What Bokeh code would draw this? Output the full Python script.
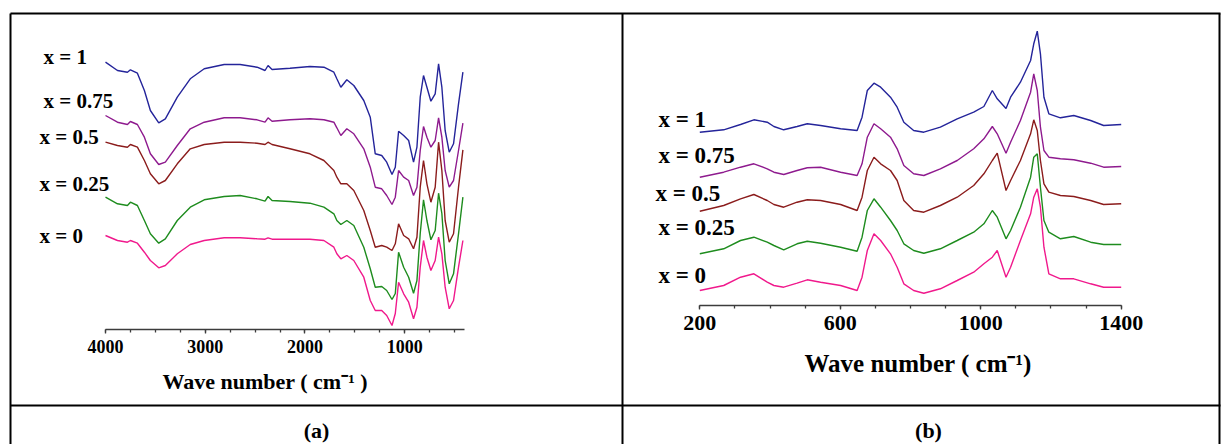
from bokeh.plotting import figure
from bokeh.models import Range1d, LinearAxis, FixedTicker
from bokeh.core.properties import value
from bokeh.embed import file_html
from bokeh.resources import INLINE

# ---------------- data: (a) FTIR spectra (offset, a.u., larger = lower on page) ----------------
wn_a = [4000, 3880, 3780, 3750, 3680, 3610, 3550, 3466, 3400, 3280, 3150, 3010, 2810, 2650, 2480,
        2400, 2370, 2330, 2150, 1950, 1810, 1710, 1680, 1640, 1580, 1510, 1410, 1345, 1295, 1230,
        1180, 1127, 1094, 1061, 1010, 960, 911, 877, 844, 811, 777, 737, 694, 660, 627, 594, 553,
        510, 460, 416]
ftir_x1 = [61.7, 70, 71.7, 69.3, 72.7, 90, 110, 122.3, 118.3, 96.7, 78.3, 68.3, 64, 64, 66.7,
           70, 65, 69, 67.7, 66, 66.7, 71.7, 78.3, 86.7, 79.3, 85, 100, 116.7, 153.3, 155,
           161.7, 174, 166.7, 130.7, 135, 140, 161.7, 146.7, 96.7, 75, 86.7, 100.7, 93.3, 63.3,
           86.7, 130, 151.7, 143.3, 103.3, 71.7]
ftir_x075 = [115, 121.7, 124, 121, 124, 136.7, 153.3, 164, 161.7, 145, 128.3, 121.7, 117.3, 117.3,
             119.3, 121.7, 117.3, 120.7, 119.3, 118.3, 119.3, 121.7, 127.3, 135, 128.3, 133.3,
             148.3, 166.7, 186.7, 188.3, 195, 204, 196.7, 170, 176.7, 180, 195, 186.7, 150, 126,
             136.7, 146.7, 140, 117.3, 136.7, 170, 186.7, 180, 150, 122.7]
ftir_x05 = [141.7, 145, 146.7, 144, 146.7, 160, 173.3, 183.3, 180, 163.3, 148.3, 144, 141.7, 141.7,
            142.7, 144, 141.7, 144, 148.3, 153.3, 160, 170, 176.7, 183.3, 183.3, 190, 210, 230,
            246.7, 245, 246.7, 250, 243.3, 223.3, 235, 238.3, 248.3, 236.7, 186.7, 160, 183.3,
            201.7, 186.7, 141.7, 170, 220, 241.7, 233.3, 186.7, 149.3]
ftir_x025 = [196.7, 203.3, 205, 201.7, 205, 220, 233.3, 242.7, 238.3, 220, 206.7, 199.3, 196, 195,
             198.3, 200.7, 196, 200, 201, 202.7, 206.7, 213.3, 220, 224, 220, 225, 246.7, 268.3,
             286.7, 286, 290, 299, 293, 251.7, 266.7, 276.7, 292.7, 280, 233, 199.3, 220, 239.3,
             230, 192.7, 213, 260, 283.3, 273.3, 233.3, 196.7]
ftir_x0 = [235, 240, 241.7, 240, 242.7, 251.7, 260, 267.3, 265, 253.3, 244, 240, 237.3, 237.3,
           238.3, 238.7, 237.3, 238.7, 238.7, 238.7, 240, 246.7, 253.3, 258.3, 255, 260, 276.7,
           300, 310, 310, 315, 325, 313, 281.7, 293.3, 301.7, 318.3, 306.7, 266.7, 240, 256.7,
           270, 260, 236.7, 253.3, 286.7, 308.3, 300, 266.7, 240]

# ---------------- data: (b) Raman spectra (offset, a.u.) ----------------
wn_b = [200, 268, 316, 354, 392, 411, 439, 477, 506, 544, 601, 648, 662, 677, 696, 715, 743, 762,
        781, 809, 838, 885, 933, 980, 1009, 1033, 1047, 1072, 1085, 1113, 1142, 1151, 1161, 1170,
        1180, 1194, 1227, 1265, 1313, 1350, 1400]
raman_x1 = [131.7, 129.3, 124, 119.3, 121.7, 126, 129.3, 126, 123.3, 125, 128.3, 130, 116.7, 90,
            82.7, 86.7, 96.7, 106.7, 121.7, 130, 131.7, 126.7, 118.3, 111.7, 106, 90, 98.3, 108,
            96.7, 81.7, 60, 43.3, 30.7, 53.3, 96.7, 113.3, 117.3, 115, 120, 125, 124]
raman_x075 = [176.7, 171.7, 166.7, 163.3, 168.3, 171.7, 174, 170, 167.3, 166.7, 171.7, 175, 163.3,
              136.7, 123.3, 128.3, 136.7, 148.3, 165, 173.3, 175, 168.3, 160, 148.3, 138.3, 126,
              133.3, 152.7, 141.7, 120, 91.7, 73.3, 90, 126.7, 150, 156.7, 158.3, 159.3, 162.7,
              166.7, 166]
raman_x05 = [210.7, 205, 198.3, 194, 200, 204, 206.7, 201.7, 199.3, 200, 204, 210, 196.7, 170,
             156.7, 163.3, 170, 180, 200, 210, 211.7, 205, 196.7, 185, 173.3, 160, 152.7, 190, 180,
             160, 133.3, 119.3, 130, 160, 183.3, 191.7, 195, 196, 200, 204, 203.3]
raman_x025 = [253.3, 248.3, 240, 236.7, 241.7, 245, 249.3, 243.3, 240.7, 242.7, 246.7, 250.7, 236.7,
              210, 198.3, 206.7, 220, 230, 243.3, 250, 252.7, 248.3, 240, 231.7, 223.3, 210, 216.7,
              238.3, 230, 206.7, 176.7, 156.7, 153.3, 186.7, 220, 231.7, 238.3, 236, 241.7, 244, 244]
raman_x0 = [290, 285, 276.7, 273.3, 281.7, 285, 286.7, 282.7, 279.3, 281.7, 285, 290, 276.7, 250,
            233.3, 240, 253.3, 266.7, 283.3, 290, 292.7, 288.3, 280, 271.7, 263.3, 256.7, 250,
            276.7, 266.7, 240, 213.3, 196.7, 188.3, 206.7, 246.7, 273.3, 278.3, 278.3, 283.3,
            286.7, 286.7]

series_names = ["x = 1", "x = 0.75", "x = 0.5", "x = 0.25", "x = 0"]
series_colors = ["#24249a", "#8e1a8e", "#8b1c1c", "#1e8c1e", "#f0198c"]
ticks_a = [4000, 3000, 2000, 1000]
ticks_b = [200, 600, 1000, 1400]

# ---------------- layout ----------------
W, H = 1221, 444
FONT_NAME = "Liberation Serif"
FONT = value(FONT_NAME)


def mapped_range(v0, px0, v1, px1, total):
    k = (v1 - v0) / (px1 - px0)
    return Range1d(start=v0 - px0 * k, end=v0 + (total - px0) * k)


p = figure(width=W, height=H, output_backend="svg", toolbar_location=None,
           x_range=Range1d(0, W), y_range=Range1d(H, 0),
           x_axis_type=None, y_axis_type=None, min_border=0)
p.outline_line_color = None
p.background_fill_color = "white"
p.border_fill_color = "white"

p.extra_x_ranges = {
    "xa": mapped_range(4000, 105, 400, 464, W),
    "xb": mapped_range(200, 699.3, 1400, 1120.7, W),
}

# table borders
p.segment(x0=[10, 10, 10, 622, 1219], y0=[13, 405, 13, 13, 13],
          x1=[1220, 1220, 10, 622, 1219], y1=[13, 405, 444, 444, 444],
          line_color="black", line_width=2)

# spectra
for ys, c in zip([ftir_x1, ftir_x075, ftir_x05, ftir_x025, ftir_x0], series_colors):
    p.line(wn_a, ys, x_range_name="xa", line_color=c, line_width=1.4)
for ys, c in zip([raman_x1, raman_x075, raman_x05, raman_x025, raman_x0], series_colors):
    p.line(wn_b, ys, x_range_name="xb", line_color=c, line_width=1.4)


def style_axis(ax, size, standoff):
    ax.axis_line_color = "#3c3c3c"
    ax.axis_line_width = 1.5
    ax.major_tick_line_color = "#3c3c3c"
    ax.minor_tick_line_color = "#3c3c3c"
    ax.major_tick_line_width = 1.3
    ax.minor_tick_line_width = 1.3
    ax.major_tick_in = 0
    ax.major_tick_out = 4
    ax.minor_tick_in = 0
    ax.minor_tick_out = 3
    ax.major_label_text_font = FONT_NAME
    ax.major_label_text_font_style = "bold"
    ax.major_label_text_font_size = size
    ax.major_label_text_color = "black"
    ax.major_label_standoff = standoff


ax_a = LinearAxis(x_range_name="xa", fixed_location=329, bounds=(400, 4000),
                  ticker=FixedTicker(ticks=ticks_a,
                                     minor_ticks=[v for v in range(500, 4001, 250)]))
style_axis(ax_a, "18px", 6)
p.add_layout(ax_a, "below")

ax_b = LinearAxis(x_range_name="xb", fixed_location=304.5, bounds=(200, 1400),
                  ticker=FixedTicker(ticks=ticks_b,
                                     minor_ticks=[v for v in range(200, 1401, 100)]))
style_axis(ax_b, "22px", 7)
p.add_layout(ax_b, "below")

# series labels
p.text(x=[43, 43, 39, 39, 39], y=[56, 100, 136, 183, 235], text=series_names,
       text_font=FONT, text_font_style="bold", text_font_size="21px",
       text_align="left", text_baseline="middle", text_color="black")
p.text(x=[658, 658, 655, 658, 658], y=[119, 155, 193, 227, 275], text=series_names,
       text_font=FONT, text_font_style="bold", text_font_size="23px",
       text_align="left", text_baseline="middle", text_color="black")

# axis titles
p.text(x=[162], y=[381], text=["Wave number  ( cm\u207b\u00b9 )"],
       text_font=FONT, text_font_style="bold", text_font_size="22px",
       text_align="left", text_baseline="middle", text_color="black")
p.text(x=[804], y=[363], text=["Wave number ( cm\u207b\u00b9)"],
       text_font=FONT, text_font_style="bold", text_font_size="25px",
       text_align="left", text_baseline="middle", text_color="black")

# panel captions
p.text(x=[316, 928], y=[430, 430], text=["(a)", "(b)"],
       text_font=FONT, text_font_style="bold", text_font_size="22px",
       text_align="center", text_baseline="middle", text_color="black")

open("out.html", "w").write(file_html(p, INLINE))
